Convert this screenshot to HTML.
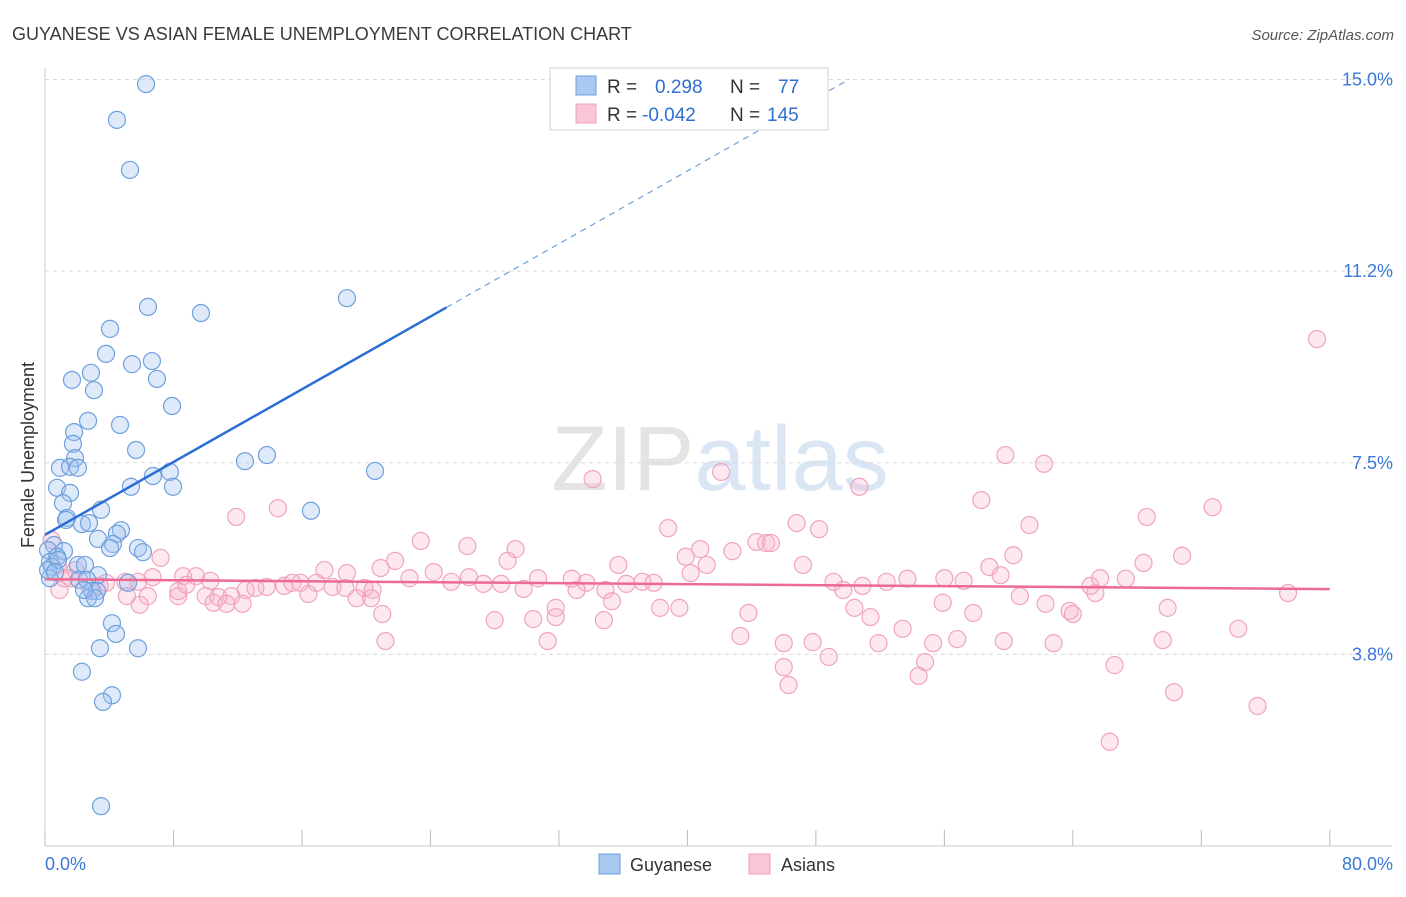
<!DOCTYPE html>
<html><head><meta charset="utf-8"><style>
body{margin:0;background:#fff;font-family:"Liberation Sans",sans-serif;}
svg text{font-family:"Liberation Sans",sans-serif;}
</style></head><body>
<svg id="chart" width="1406" height="892" xmlns="http://www.w3.org/2000/svg">
<text x="12" y="40" font-size="18" fill="#3a3a3a">GUYANESE VS ASIAN FEMALE UNEMPLOYMENT CORRELATION CHART</text>
<text x="1394" y="40" font-size="15" font-style="italic" fill="#555" text-anchor="end">Source: ZipAtlas.com</text>
<text x="720" y="490" font-size="92" fill="#e4e4e4" text-anchor="middle" font-family="Liberation Serif">ZIP<tspan fill="#dbe6f5" font-family="Liberation Sans">atlas</tspan></text>
<text transform="translate(34,455) rotate(-90)" font-size="18" fill="#333" text-anchor="middle">Female Unemployment</text>
<g id="grid"></g><g id="axes"></g><g id="pts"></g><g id="trends"></g>
<g>
<rect x="550" y="68" width="278" height="62" fill="#fff" stroke="#d0d0d0"/>
<rect x="576" y="76" width="20" height="19" fill="#a9c9f3" stroke="#6fa0dc"/>
<rect x="576" y="104" width="20" height="19" fill="#f9c6d6" stroke="#f0a0bc"/>
<text x="607" y="93" font-size="19" fill="#333">R = <tspan fill="#2f6fd0" x="655">0.298</tspan><tspan x="730" fill="#333">N = </tspan><tspan fill="#2f6fd0" x="778">77</tspan></text>
<text x="607" y="121" font-size="19" fill="#333">R = <tspan fill="#2f6fd0" x="642">-0.042</tspan><tspan x="730" fill="#333">N = </tspan><tspan fill="#2f6fd0" x="767">145</tspan></text>
</g>
<g>
<rect x="599" y="854" width="21" height="20" fill="#a9c9f3" stroke="#6fa0dc"/>
<text x="630" y="871" font-size="18" fill="#333">Guyanese</text>
<rect x="749" y="854" width="21" height="20" fill="#f9c6d6" stroke="#f0a0bc"/>
<text x="781" y="871" font-size="18" fill="#333">Asians</text>
</g>
</svg>
<script>
const yTicks=[15,11.25,7.5,3.75];
const yTickLabels=["15.0%","11.2%","7.5%","3.8%"];
const xTicks=[0,8,16,24,32,40,48,56,64,72,80];
const blueX=[6.29,4.48,5.29,18.8,6.41,9.71,4.05,3.8,6.66,5.42,2.86,1.68,6.97,3.05,7.91,2.68,4.67,1.81,1.74,5.67,1.87,12.45,13.82,0.93,1.56,2.05,20.55,6.72,7.78,5.35,7.97,0.75,1.56,1.12,3.49,16.56,1.37,1.31,2.3,2.74,4.73,4.48,3.3,4.23,4.05,5.79,6.1,0.56,0.19,1.18,0.75,0.31,0.44,0.81,2.05,2.49,3.3,5.17,2.12,2.62,2.93,3.24,2.68,3.11,0.31,4.17,4.42,3.42,5.79,2.3,4.17,3.61,3.49,0.19,0.62,2.43];
const blueY=[14.91,14.21,13.23,10.72,10.55,10.43,10.12,9.63,9.49,9.43,9.26,9.12,9.14,8.92,8.61,8.32,8.24,8.1,7.87,7.75,7.59,7.53,7.65,7.4,7.42,7.4,7.34,7.24,7.32,7.03,7.03,7.01,6.91,6.71,6.58,6.56,6.42,6.38,6.3,6.32,6.18,6.11,6.01,5.91,5.83,5.83,5.75,5.89,5.79,5.77,5.66,5.56,5.46,5.6,5.5,5.5,5.3,5.15,5.21,5.21,4.99,4.99,4.85,4.85,5.24,4.36,4.15,3.87,3.87,3.41,2.95,2.82,0.78,5.4,5.36,5.01];
const pinkX=[79.2,59.8,62.2,42.1,34.1,50.7,58.3,14.5,11.9,72.7,68.6,46.8,38.8,48.2,61.3,44.3,44.9,45.2,23.4,26.3,29.3,40.8,42.8,39.9,60.3,70.8,28.8,21.8,35.7,41.2,47.2,7.2,68.4,58.8,59.5,20.9,22.7,17.4,18.8,24.2,26.4,30.7,32.8,33.7,37.2,37.9,25.3,27.3,28.4,29.8,33.1,34.9,36.2,40.2,6.7,8.6,9.4,10.3,13.8,13.1,12.5,14.9,15.4,15.9,16.9,17.9,18.7,19.9,20.4,5.0,5.8,3.8,3.4,2.8,5.1,6.4,8.3,10.0,10.8,11.6,10.5,11.3,12.3,8.3,8.8,49.1,49.7,52.4,53.7,56.0,57.2,65.1,65.4,65.7,67.3,77.4,60.7,62.3,55.9,57.8,51.4,50.4,38.3,39.5,43.8,50.9,63.8,64.0,35.3,31.8,30.4,31.8,28.0,34.8,21.0,20.3,19.4,16.4,69.9,74.3,66.6,69.6,62.8,59.7,55.3,56.8,51.9,53.4,47.8,46.0,43.3,31.3,21.2,48.8,54.8,54.4,46.0,46.3,70.3,75.5,66.3,5.9,0.9,1.6,0.4,0.8,1.2,1.9];
const pinkY=[9.92,7.65,7.48,7.32,7.18,7.03,6.77,6.61,6.44,6.63,6.44,6.32,6.22,6.2,6.28,5.95,5.93,5.93,5.97,5.87,5.81,5.81,5.77,5.66,5.69,5.68,5.58,5.58,5.5,5.5,5.5,5.64,5.54,5.46,5.3,5.44,5.24,5.4,5.34,5.36,5.26,5.24,5.23,5.15,5.17,5.15,5.17,5.13,5.13,5.03,5.01,5.01,5.13,5.34,5.26,5.28,5.28,5.19,5.07,5.05,5.01,5.09,5.15,5.15,5.15,5.07,5.05,5.05,5.01,5.17,5.17,5.15,5.09,5.05,4.89,4.89,4.89,4.89,4.87,4.89,4.76,4.74,4.74,4.99,5.11,5.17,5.01,5.17,5.23,5.24,5.19,5.09,4.95,5.24,5.23,4.95,4.89,4.74,4.76,4.56,4.48,4.66,4.66,4.66,4.56,5.09,4.6,4.54,4.79,4.66,4.44,4.48,4.42,4.42,4.54,4.85,4.85,4.93,4.66,4.25,3.54,4.03,3.97,4.01,3.97,4.05,3.97,4.25,3.99,3.97,4.11,4.01,4.01,3.7,3.6,3.33,3.5,3.15,3.01,2.74,2.04,4.72,5.01,5.24,5.99,5.5,5.24,5.4];
const blueTrend=[6.09,0.178];
const pinkTrend=[5.22,-0.0024];
const NS="http://www.w3.org/2000/svg";
const xs=v=>45+v*16.06, ys=v=>846-v*51.1;
function mk(p,t,a){const e=document.createElementNS(NS,t);for(const k in a)e.setAttribute(k,a[k]);document.getElementById(p).appendChild(e);return e;}
yTicks.forEach((t,i)=>{
 const l=mk('grid','line',{x1:45,x2:1392,y1:ys(t),y2:ys(t),stroke:'#dadada','stroke-dasharray':'4,4'});
 
 
 const tx=mk('grid','text',{x:1393,y:ys(t)+6,'font-size':18,fill:'#3b78d8','text-anchor':'end'});
 tx.textContent=yTickLabels[i];
 
 
});
const ax=mk('axes','line',{x1:45,x2:45,y1:68,y2:846,stroke:'#ccc'});


const bx=mk('axes','line',{x1:45,x2:1392,y1:846,y2:846,stroke:'#ccc'});


xTicks.forEach(t=>{const l=mk('axes','line',{x1:xs(t),x2:xs(t),y1:830,y2:846,stroke:'#bbb'});
 
 });
[[0,'0.0%','start',45],[80,'80.0%','end',1393]].forEach(d=>{const t=mk('axes','text',{x:d[3],y:870,'font-size':18,fill:'#3b78d8','text-anchor':d[2]});t.textContent=d[1];
 
 });
pinkX.forEach((x,i)=>{const c=mk('pts','circle',{cx:xs(x),cy:ys(pinkY[i]),r:8.5,fill:'rgba(248,180,204,0.3)',stroke:'#f0a3bf','stroke-width':1.2});
 
 });
blueX.forEach((x,i)=>{const c=mk('pts','circle',{cx:xs(x),cy:ys(blueY[i]),r:8.5,fill:'rgba(160,196,240,0.35)',stroke:'#6fa0dc','stroke-width':1.2});
 
 });
const bf=v=>blueTrend[0]+blueTrend[1]*v, pf=v=>pinkTrend[0]+pinkTrend[1]*v;
const xEnd=(15-blueTrend[0])/blueTrend[1];
const b1=mk('trends','line',{x1:xs(0),y1:ys(bf(0)),x2:xs(25),y2:ys(bf(25)),stroke:'#2b6fd6','stroke-width':2.5});


const b2=mk('trends','line',{x1:xs(25),y1:ys(bf(25)),x2:xs(xEnd),y2:ys(15),stroke:'#6fa0dc','stroke-width':1.2,'stroke-dasharray':'6,5'});


const p1=mk('trends','line',{x1:xs(0),y1:ys(pf(0)),x2:xs(80),y2:ys(pf(80)),stroke:'#ec6a94','stroke-width':2.5});


</script>
</body></html>
